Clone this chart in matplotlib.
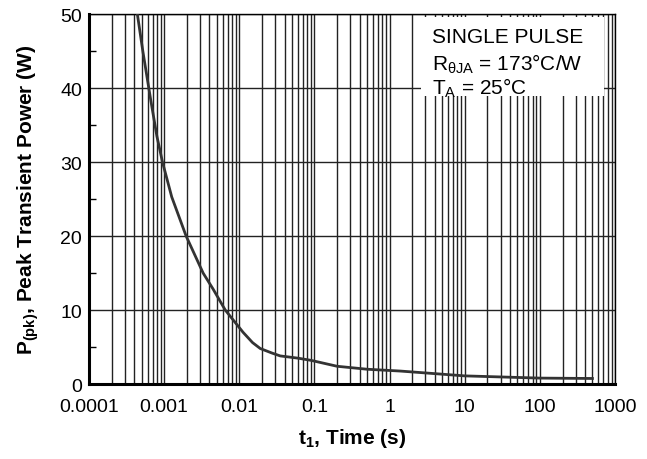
import matplotlib
matplotlib.use("Agg")
import matplotlib.pyplot as plt
from matplotlib.patches import Rectangle
from matplotlib.ticker import LogLocator, FixedLocator, NullFormatter

plt.rcParams["font.family"] = ["Liberation Sans", "DejaVu Sans"]
plt.rcParams["mathtext.fontset"] = "custom"
plt.rcParams["mathtext.rm"] = "Liberation Sans"
plt.rcParams["mathtext.bf"] = "Liberation Sans:bold"
plt.rcParams["mathtext.it"] = "Liberation Sans:italic"

# pulse width (s) and peak transient power (W)
time_s = [4.4e-4, 5.2e-4, 6.6e-4, 8e-4, 9.5e-4, 1.26e-3, 1.96e-3, 3.3e-3, 4.5e-3,
          6.5e-3, 1.12e-2, 1.5e-2, 1.9e-2, 2.7e-2, 3.5e-2, 6e-2, 9e-2, 0.2, 0.5,
          1.4, 10, 100, 500]
power_w = [50, 45, 38.5, 33.5, 30, 25.3, 20, 15, 12.8,
           10, 7.0, 5.6, 4.8, 4.2, 3.8, 3.5, 3.2, 2.4, 2.0,
           1.75, 1.1, 0.8, 0.75]

x_ticks = [1e-4, 1e-3, 1e-2, 1e-1, 1, 10, 100, 1000]
x_tick_labels = ["0.0001", "0.001", "0.01", "0.1", "1", "10", "100", "1000"]
y_ticks = [0, 10, 20, 30, 40, 50]

note_lines = ["SINGLE PULSE",
              "R$_{\\mathregular{θJA}}$ = 173°C/W",
              "T$_{\\mathregular{A}}$ = 25°C"]


def main():
    fig = plt.figure(figsize=(6.47, 4.6), dpi=100)
    ax = fig.add_axes([0.1376, 0.163, 0.813, 0.804])

    ax.set_xscale("log")
    ax.set_xlim(1e-4, 1e3)
    ax.set_ylim(0, 50)

    ax.set_xticks(x_ticks)
    ax.set_xticklabels(x_tick_labels)
    ax.xaxis.set_minor_locator(LogLocator(base=10, subs=range(2, 10), numticks=20))
    ax.xaxis.set_minor_formatter(NullFormatter())
    ax.set_yticks(y_ticks)
    ax.yaxis.set_minor_locator(FixedLocator([5, 15, 25, 35, 45]))

    ax.set_axisbelow(True)
    ax.grid(which="both", axis="x", color="#222222", linewidth=1.0)
    ax.grid(which="major", axis="y", color="#222222", linewidth=1.0)

    ax.tick_params(axis="x", which="both", length=0, pad=10, labelsize=14)
    ax.tick_params(axis="y", which="major", length=0, pad=5, labelsize=14)
    ax.tick_params(axis="y", which="minor", direction="in", length=5, width=1)

    for side in ["left", "bottom"]:
        ax.spines[side].set_linewidth(2.2)
    for side in ["top", "right"]:
        ax.spines[side].set_linewidth(1.0)

    ax.plot(time_s, power_w, color="#333333", linewidth=2.0, zorder=3)

    # white panel behind the conditions note
    ax.add_patch(Rectangle((0.631, 0.778), 0.348, 0.215, transform=ax.transAxes,
                           facecolor="white", edgecolor="none", zorder=10))
    for line, y in zip(note_lines, [0.9235, 0.851, 0.784]):
        ax.text(0.6515, y, line, transform=ax.transAxes, fontsize=15,
                va="baseline", ha="left", zorder=11)

    ax.set_xlabel("t$_{\\mathbf{1}}$, Time (s)", fontsize=15, fontweight="bold", labelpad=8)
    ax.set_ylabel("P$_{\\mathbf{(pk)}}$, Peak Transient Power (W)", fontsize=15,
                  fontweight="bold", labelpad=14)

    fig.savefig("out.png", dpi=100)


if __name__ == "__main__":
    main()
